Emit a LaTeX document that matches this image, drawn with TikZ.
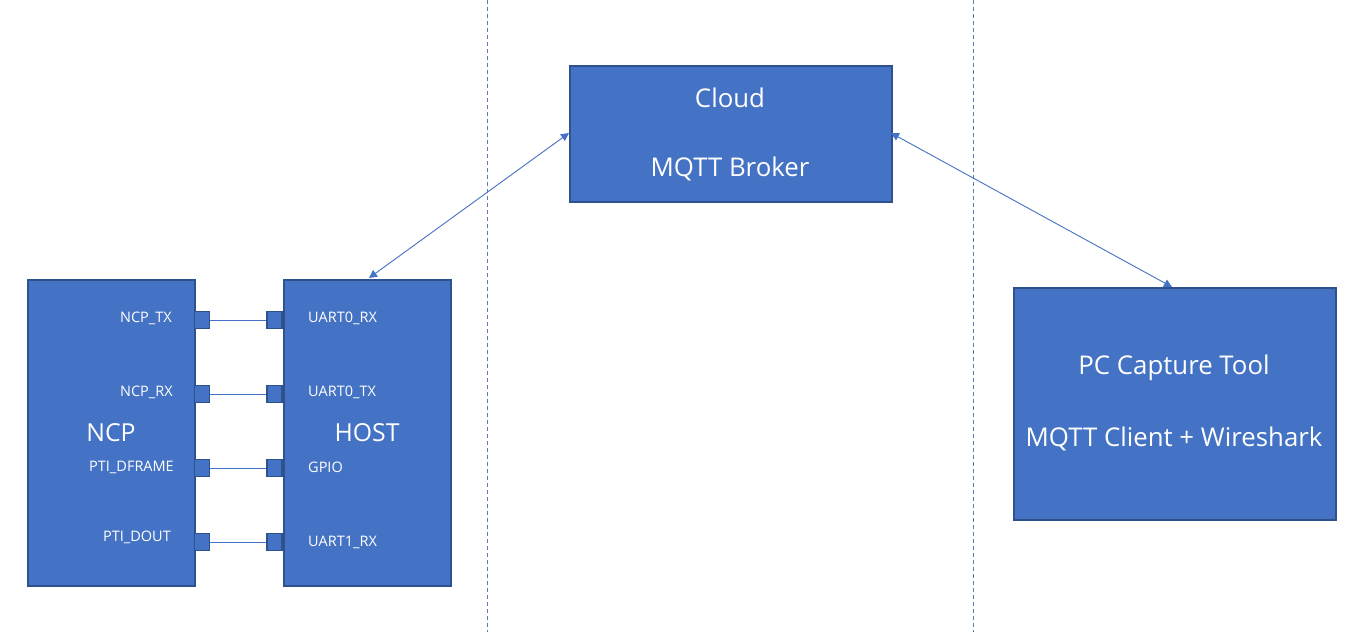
\documentclass[tikz,border=0pt]{standalone}
\usepackage{fontspec}
\setmainfont{Open Sans}
\usetikzlibrary{arrows.meta}
\definecolor{boxfill}{HTML}{4472C4}
\definecolor{boxline}{HTML}{2F528F}
\definecolor{dashc}{HTML}{5A7AB8}
\begin{document}
\begin{tikzpicture}[x=1pt,y=-1pt,
  block/.style={draw=boxline,line width=1.6pt,fill=boxfill,anchor=north west,inner sep=0pt},
  pin/.style={draw=boxline,line width=1.6pt,fill=boxfill,minimum width=15pt,minimum height=17pt,inner sep=0pt},
  big/.style={text=white,font=\fontsize{25.8}{31}\selectfont,inner sep=0pt},
  mid/.style={text=white,font=\fontsize{24.8}{30}\selectfont,inner sep=0pt},
  small/.style={text=white,font=\fontsize{14.5}{17}\selectfont,inner sep=0pt},
  wire/.style={draw=boxfill,line width=0.9pt},
  link/.style={draw=boxfill,line width=0.9pt,{Triangle[width=8pt,length=8pt]}-{Triangle[width=8pt,length=8pt]}},
  sep/.style={draw=dashc,line width=0.8pt,dash pattern=on 4pt off 3pt}]
\useasboundingbox (0,0) rectangle (1370,632);
\fill[white] (0,0) rectangle (1370,632);
% separators
\coordinate (s1t) at (487,0); \coordinate (s1b) at (487,632);
\coordinate (s2t) at (973,0); \coordinate (s2b) at (973,632);
\draw[sep] (s1t) -- (s1b);
\draw[sep] (s2t) -- (s2b);
% blocks
\node[block,minimum width=167pt,minimum height=306pt] (ncp) at (27,279) {};
\node[block,minimum width=167pt,minimum height=306pt] (host) at (283,279) {};
\node[block,minimum width=322pt,minimum height=136pt] (cloud) at (569,65) {};
\node[block,minimum width=322pt,minimum height=232pt] (pc) at (1013,287) {};
% big texts
\node[mid] (ncpl) at (111,433) {NCP};
\node[mid] (hostl) at (367,433) {HOST};
\node[big] (cl1) at (730,98) {Cloud};
\node[big] (cl2) at (730,169) {MQTT Broker};
\node[big] (pc1) at (1174,368) {PC Capture Tool};
\node[big] (pc2) at (1174,439) {MQTT Client + Wireshark};
% pins
\foreach \n/\y in {a/320,b/394,c/468,d/542}{
  \node[pin] (np\n) at (202,\y) {};
  \node[pin] (hp\n) at (274.5,\y) {};
}
\draw[wire] (npa.east) -- (hpa.west);
\draw[wire] (npb.east) -- (hpb.west);
\draw[wire] (npc.east) -- (hpc.west);
\draw[wire] (npd.east) -- (hpd.west);
% pin labels
\node[small,anchor=east] (l1) at (172,318) {NCP\_TX};
\node[small,anchor=east] (l2) at (173,392) {NCP\_RX};
\node[small,anchor=east] (l3) at (174,467) {PTI\_DFRAME};
\node[small,anchor=east] (l4) at (171,537) {PTI\_DOUT};
\node[small,anchor=west] (r1) at (308,318) {UART0\_RX};
\node[small,anchor=west] (r2) at (308,392) {UART0\_TX};
\node[small,anchor=west] (r3) at (308,467) {GPIO};
\node[small,anchor=west] (r4) at (308,542) {UART1\_RX};
% links
\coordinate (hosttop) at (369,278);
\coordinate (cloudl) at (569,133);
\coordinate (cloudr) at (891,133);
\coordinate (pctop) at (1172,287);
\draw[link] (hosttop) -- (cloudl);
\draw[link] (cloudr) -- (pctop);
\end{tikzpicture}
\end{document}
